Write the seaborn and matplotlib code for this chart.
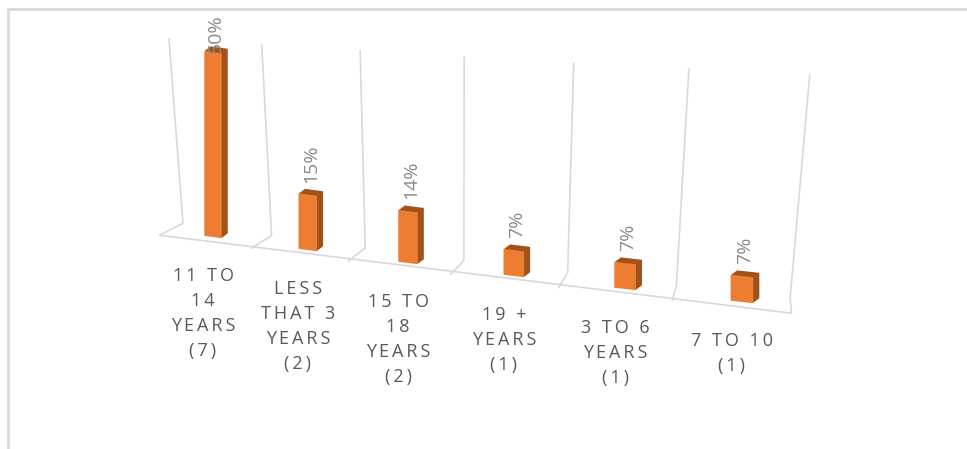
import numpy as np
import pandas as pd
import seaborn as sns
import matplotlib
matplotlib.use("Agg")
import matplotlib.pyplot as plt
from matplotlib.transforms import Affine2D, ScaledTranslation
from matplotlib.lines import Line2D

# ---- data ----
categories = ["11 TO 14 YEARS (7)", "LESS THAT 3 YEARS (2)", "15 TO 18 YEARS (2)",
              "19 + YEARS (1)", "3 TO 6 YEARS (1)", "7 TO 10 (1)"]
tick_labels = ["11 TO\n14\nYEARS\n(7)", "LESS\nTHAT 3\nYEARS\n(2)", "15 TO\n18\nYEARS\n(2)",
               "19 +\nYEARS\n(1)", "3 TO 6\nYEARS\n(1)", "7 TO 10\n(1)"]
values = [50, 15, 14, 7, 7, 7]
value_labels = ["50%", "15%", "14%", "7%", "7%", "7%"]

FRONT = "#ED7D31"
SIDE = "#A0521A"
GRID = "#D9D9D9"
CAT_TXT = "#595959"
VAL_TXT = "#8A8A8A"

sns.set_theme(style="white")
plt.rcParams["font.family"] = ["Open Sans", "DejaVu Sans"]

fig = plt.figure(figsize=(9.67, 4.49), dpi=100)
ax = fig.add_axes([0.146, 0.1425, 0.722, 0.824])

df = pd.DataFrame({"cat": categories, "val": values})
n = len(categories)
n_layers = 6
for j in range(n_layers):
    sns.barplot(data=df, x="cat", y="val", color=SIDE, saturation=1, width=0.19,
                ax=ax, zorder=2)
sns.barplot(data=df, x="cat", y="val", color=FRONT, saturation=1, width=0.19, ax=ax, zorder=3)

# perspective-like x scale
def fwd(x):
    x = np.asarray(x, dtype=float)
    return x + 0.03 * x ** 2

def inv(u):
    u = np.asarray(u, dtype=float)
    return (np.sqrt(np.maximum(1 + 0.12 * u, 0)) - 1) / 0.06

ax.set_xscale("function", functions=(fwd, inv))
ax.set_xlim(-0.8, 5.8)
ax.set_ylim(-40, 60)
ax.axis("off")

shear = Affine2D().from_values(1, -3.51, 0, 1, 0, 0)
base_tr = shear + ax.transData

for j in range(n_layers):
    off = ScaledTranslation(0.01 * (j + 1), 0.0075 * (j + 1), fig.dpi_scale_trans)
    for p in ax.patches[j * n:(j + 1) * n]:
        p.set_transform(base_tr + off)
        p.set_edgecolor("none")
for p in ax.patches[n_layers * n:]:
    p.set_transform(base_tr)
    p.set_edgecolor("none")

# floor and wall lines
y_front, y_back = -1.6, 2.6
xf = [k - 0.59 for k in range(n + 1)]
ax.plot([xf[0], xf[-1]], [y_front, y_front], color=GRID, lw=1.2, transform=base_tr,
        zorder=1, clip_on=False)
for k, x0 in enumerate(xf):
    xb = x0 + 0.26 - 0.045 * k
    xt = xb + 0.055 * (xb - 2.5)
    yt = 52.8 + 1.89 * xt
    ax.plot([x0, xb, xt], [y_front, y_back, yt], color=GRID, lw=1.2, transform=base_tr,
            zorder=1, clip_on=False)

# labels
def spaced(s):
    return "\n".join("\u2009".join(list(line)) for line in s.split("\n"))

for i, (lab, v, vl) in enumerate(zip(tick_labels, values, value_labels)):
    ax.annotate(spaced(lab), xy=(i, 0), xycoords=base_tr, xytext=(-10, -30),
                textcoords="offset pixels", ha="center", va="top", ma="center",
                fontsize=13, color=CAT_TXT, linespacing=1.5, annotation_clip=False)
    ax.annotate(vl, xy=(i, min(v, 46.5)), xycoords=base_tr, xytext=(3, 12),
                textcoords="offset pixels", ha="center", va="bottom", rotation=90,
                fontsize=14, color=VAL_TXT, annotation_clip=False)

# chart frame (top and left border)
fig.add_artist(Line2D([8 / 967, 1], [1 - 9 / 449] * 2, transform=fig.transFigure,
                      color=GRID, lw=2))
fig.add_artist(Line2D([8 / 967] * 2, [0, 1 - 9 / 449], transform=fig.transFigure,
                      color=GRID, lw=2))

fig.savefig("out.png", dpi=100)
